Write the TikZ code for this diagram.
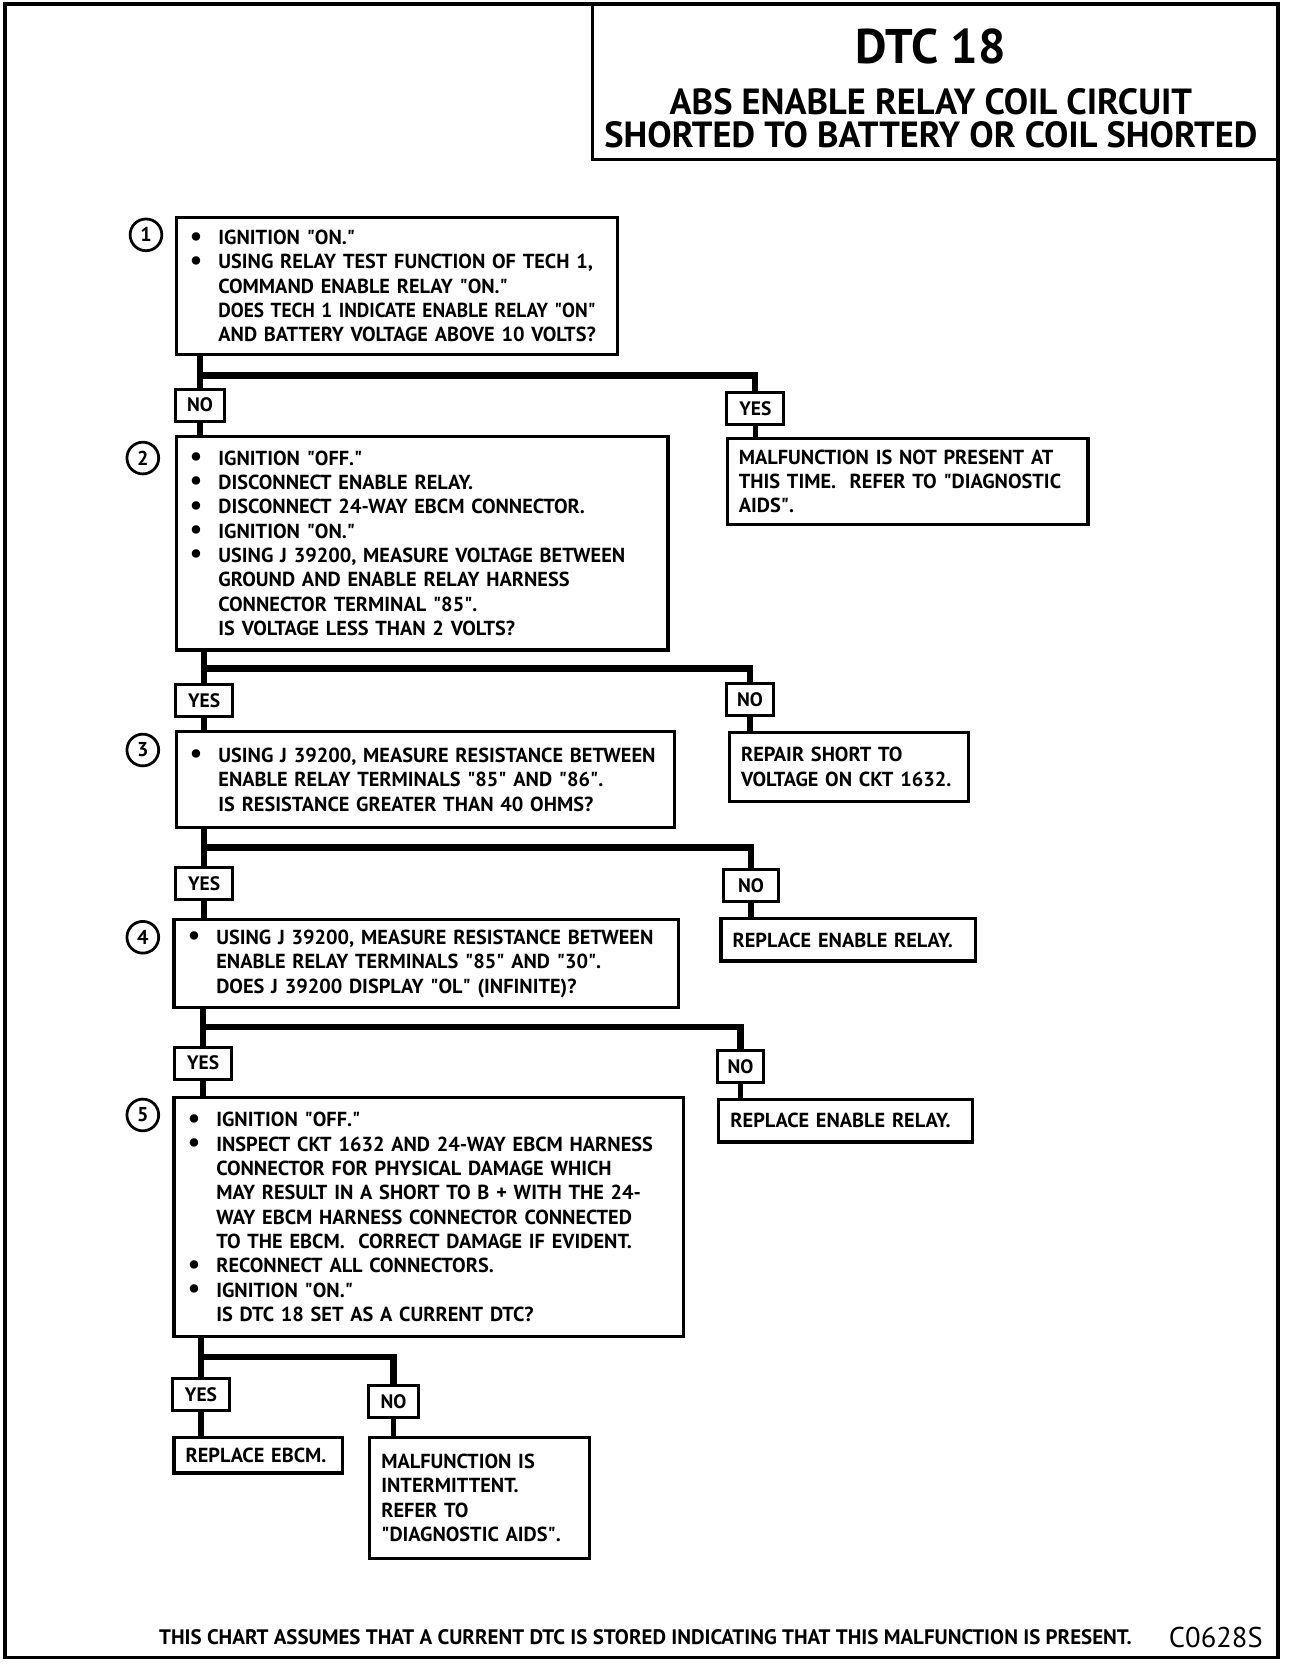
\documentclass[tikz,border=0pt]{standalone}
\usepackage{fontspec}
\usepackage{graphicx}
\setmainfont{PT Sans}
\newcommand\mybox{\bfseries\fontsize{9.6}{11.5}\selectfont}
\newcommand\mylbl{\bfseries\fontsize{9.2}{9}\selectfont}
\newcommand\mynum{\bfseries\fontsize{9.5}{9}\selectfont}
\newcommand\bl[1]{\mbox{\makebox[13.5pt][l]{\raisebox{-0.2pt}{\fontsize{13}{0}\selectfont\textbullet}}#1}}
\newcommand\ind[1]{\mbox{\hspace*{13.5pt}#1}}
\newcommand\pl[1]{\mbox{#1}}
\newcommand\dq{\textquotedbl}
\begin{document}
\begin{tikzpicture}[x=0.5pt, y=-0.5pt,
  box/.style={draw, line width=1.5pt, inner sep=0pt, align=left, font=\mybox, anchor=north west},
  lbl/.style={draw, line width=1.4pt, inner sep=0pt, font=\mylbl, minimum height=15pt},
  num/.style={circle, draw, line width=1.3pt, minimum size=15pt, inner sep=0pt, font=\mynum},
  ttl/.style={inner sep=0pt, font=\bfseries\fontsize{17.2}{17.2}\selectfont},
  trunk/.style={line width=3pt},
  link/.style={line width=2.6pt}]
\useasboundingbox (0,0) rectangle (1240,1573);
% frame and title box
\draw[line width=1.7pt] (4.7,3.8) rectangle (1208,1567);
\draw[line width=1.5pt] (560,3.8) rectangle (1208,151);
\node[inner sep=0pt, font=\bfseries\fontsize{23}{23}\selectfont] (t0) at (880,44) {DTC 18};
\node[ttl] (t1) at (880,96) {ABS ENABLE RELAY COIL CIRCUIT};
\node[ttl] (t2) at (880,127) {SHORTED TO BATTERY OR COIL SHORTED};

% step boxes
\node[box, minimum width=208.5pt, minimum height=65pt, text width=195.5pt] (b1) at (165,204)
 {\bl{IGNITION \dq{}ON.\dq}\\
  \bl{USING RELAY TEST FUNCTION OF TECH 1,}\\
  \ind{COMMAND ENABLE RELAY \dq{}ON.\dq}\\
  \ind{\scalebox{0.95}[1]{DOES TECH 1 INDICATE ENABLE RELAY \dq{}ON\dq}}\\
  \ind{AND BATTERY VOLTAGE ABOVE 10 VOLTS?}};
\node[box, minimum width=232.5pt, minimum height=101pt, text width=219.5pt] (b2) at (165,411)
 {\bl{IGNITION \dq{}OFF.\dq}\\
  \bl{DISCONNECT ENABLE RELAY.}\\
  \bl{DISCONNECT 24-WAY EBCM CONNECTOR.}\\
  \bl{IGNITION \dq{}ON.\dq}\\
  \bl{USING J 39200, MEASURE VOLTAGE BETWEEN}\\
  \ind{GROUND AND ENABLE RELAY HARNESS}\\
  \ind{CONNECTOR TERMINAL \dq{}85\dq.}\\
  \ind{IS VOLTAGE LESS THAN 2 VOLTS?}};
\node[box, minimum width=235.5pt, minimum height=45.5pt, text width=222.5pt] (b3) at (165,690)
 {\bl{USING J 39200, MEASURE RESISTANCE BETWEEN}\\
  \ind{ENABLE RELAY TERMINALS \dq{}85\dq{} AND \dq{}86\dq.}\\
  \ind{IS RESISTANCE GREATER THAN 40 OHMS?}};
\node[box, minimum width=238.5pt, minimum height=41.5pt, text width=225.5pt] (b4) at (163,868)
 {\bl{USING J 39200, MEASURE RESISTANCE BETWEEN}\\
  \ind{ENABLE RELAY TERMINALS \dq{}85\dq{} AND \dq{}30\dq.}\\
  \ind{DOES J 39200 DISPLAY \dq{}OL\dq{} (INFINITE)?}};
\node[box, minimum width=241pt, minimum height=113pt, text width=228pt] (b5) at (163,1036)
 {\bl{IGNITION \dq{}OFF.\dq}\\
  \bl{INSPECT CKT 1632 AND 24-WAY EBCM HARNESS}\\
  \ind{CONNECTOR FOR PHYSICAL DAMAGE WHICH}\\
  \ind{MAY RESULT IN A SHORT TO B + WITH THE 24-}\\
  \ind{WAY EBCM HARNESS CONNECTOR CONNECTED}\\
  \ind{TO THE EBCM.~ CORRECT DAMAGE IF EVIDENT.}\\
  \bl{RECONNECT ALL CONNECTORS.}\\
  \bl{IGNITION \dq{}ON.\dq}\\
  \ind{IS DTC 18 SET AS A CURRENT DTC?}};

% result boxes
\node[box, minimum width=170.5pt, minimum height=40.5pt, text width=159.5pt] (rA) at (686,413)
 {\pl{MALFUNCTION IS NOT PRESENT AT}\\ \pl{THIS TIME.~ REFER TO \dq{}DIAGNOSTIC}\\ \pl{AIDS\dq.}};
\node[box, minimum width=113pt, minimum height=32.5pt, text width=102pt] (rB) at (688,691)
 {\pl{REPAIR SHORT TO}\\ \pl{VOLTAGE ON CKT 1632.}};
\node[box, minimum width=120.5pt, minimum height=20pt, text width=109.5pt] (rC) at (680,867)
 {\pl{REPLACE ENABLE RELAY.}};
\node[box, minimum width=120pt, minimum height=20pt, text width=109pt] (rD) at (678,1038)
 {\pl{REPLACE ENABLE RELAY.}};
\node[box, minimum width=79.5pt, minimum height=17pt, text width=68.5pt] (rE) at (163,1357)
 {\pl{REPLACE EBCM.}};
\node[box, minimum width=104pt, minimum height=57.5pt, text width=93pt] (rF) at (348,1357)
 {\pl{MALFUNCTION IS}\\ \pl{INTERMITTENT.}\\ \pl{REFER TO}\\ \pl{\dq{}DIAGNOSTIC AIDS\dq.}};

% step numbers
\node[num] (c1) at (138,222) {1};
\node[num] (c2) at (135,433) {2};
\node[num] (c3) at (135,709) {3};
\node[num] (c4) at (135,886) {4};
\node[num] (c5) at (135,1054) {5};

% yes/no labels
\node[lbl, minimum width=23pt] (l1n) at (189,383) {NO};
\node[lbl, minimum width=27pt] (l1y) at (714,386) {YES};
\node[lbl, minimum width=27pt] (l2y) at (193,662) {YES};
\node[lbl, minimum width=22pt] (l2n) at (709,661) {NO};
\node[lbl, minimum width=27pt] (l3y) at (193,835) {YES};
\node[lbl, minimum width=26pt] (l3n) at (710,837) {NO};
\node[lbl, minimum width=27pt] (l4y) at (192,1005) {YES};
\node[lbl, minimum width=22pt] (l4n) at (700,1008) {NO};
\node[lbl, minimum width=27pt] (l5y) at (190,1318) {YES};
\node[lbl, minimum width=24pt] (l5n) at (372,1325) {NO};

% junctions
\coordinate (j1) at (189,355);
\coordinate (j2) at (193,632);
\coordinate (j3) at (193,801);
\coordinate (j4) at (192,971);
\coordinate (j5) at (190,1283);

% connectors
\draw[trunk] (b1.south -| j1) -- (l1n.north);
\draw[trunk] (j1) -| (l1y.north);
\draw[link] (l1n.south) -- (l1n.south |- b2.north);
\draw[link] (l1y.south) -- (l1y.south |- rA.north);

\draw[trunk] (b2.south -| j2) -- (l2y.north);
\draw[trunk] (j2) -| (l2n.north);
\draw[link] (l2y.south) -- (l2y.south |- b3.north);
\draw[link] (l2n.south) -- (l2n.south |- rB.north);

\draw[trunk] (b3.south -| j3) -- (l3y.north);
\draw[trunk] (j3) -| (l3n.north);
\draw[link] (l3y.south) -- (l3y.south |- b4.north);
\draw[link] (l3n.south) -- (l3n.south |- rC.north);

\draw[trunk] (b4.south -| j4) -- (l4y.north);
\draw[trunk] (j4) -| (l4n.north);
\draw[link] (l4y.south) -- (l4y.south |- b5.north);
\draw[link] (l4n.south) -- (l4n.south |- rD.north);

\draw[trunk] (b5.south -| j5) -- (l5y.north);
\draw[trunk] (j5) -| (l5n.north);
\draw[link] (l5y.south) -- (l5y.south |- rE.north);
\draw[link] (l5n.south) -- (l5n.south |- rF.north);

% footer
\node[anchor=west, inner sep=0pt, font=\bfseries\fontsize{9.9}{10}\selectfont] (foot) at (150,1548)
 {THIS CHART ASSUMES THAT A CURRENT DTC IS STORED INDICATING THAT THIS MALFUNCTION IS PRESENT.};
\node[anchor=east, inner sep=0pt, font=\fontsize{13.5}{14}\selectfont] (code) at (1194,1548) {C0628S};
\end{tikzpicture}
\end{document}
